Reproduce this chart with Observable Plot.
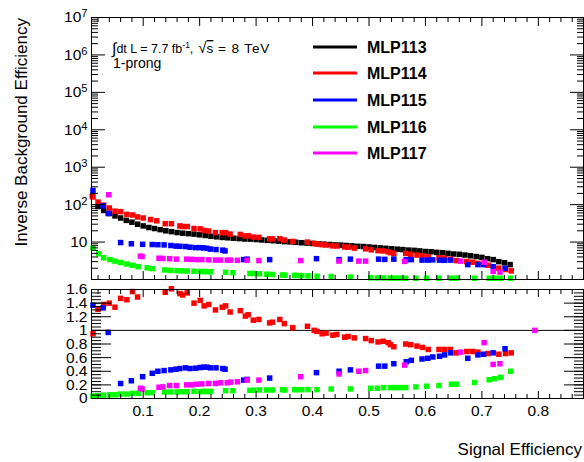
<!DOCTYPE html>
<html><head><meta charset="utf-8">
<script src="https://cdn.jsdelivr.net/npm/d3@7"></script>
<script src="https://cdn.jsdelivr.net/npm/@observablehq/plot@0.6"></script>
<style>
body{margin:0;background:#fff;}
#wrap{position:relative;width:584px;height:462px;overflow:hidden;background:#fff;font-family:"Liberation Sans",Arial,Helvetica,sans-serif;}
#top,#bot,#over{position:absolute;left:0;}
#top{top:0}
#bot{top:283px}
#over{top:0;pointer-events:none}
</style></head><body>
<div id="wrap"><div id="top"></div><div id="bot"></div>
<svg id="over" width="584" height="462" font-family="Liberation Sans, Arial, Helvetica, sans-serif"></svg></div>
<script>
// ---------------- data ----------------
const seriesNames = ["MLP113","MLP114","MLP115","MLP116","MLP117"];
const seriesColors = ["#000000","#ff0000","#0000ff","#00ff00","#ff00ff"];

const x113 = [0.01,0.02,0.03,0.04,0.05,0.06,0.07,0.08,0.09,0.10,0.11,0.12,0.13,0.14,0.15,0.16,0.17,0.18,0.19,0.20,0.21,0.22,0.23,0.24,0.25,0.26,0.27,0.28,0.29,0.30,0.31,0.32,0.33,0.34,0.35,0.36,0.37,0.38,0.39,0.40,0.41,0.42,0.43,0.44,0.45,0.46,0.47,0.48,0.49,0.50,0.51,0.52,0.53,0.54,0.55,0.56,0.57,0.58,0.59,0.60,0.61,0.62,0.63,0.64,0.65,0.66,0.67,0.68,0.69,0.70,0.71,0.72,0.73,0.74,0.75];
const y113 = [170,89,70,58,50,44,38,34,30,27,24.5,23,21.5,20,19,18,17.3,16.8,16.3,15.6,15,14.3,13.8,13.3,13,12.7,12.4,12.1,12,11.7,11.4,11.1,10.9,10.6,10.3,10.1,9.9,9.6,9.4,9.2,9.0,8.8,8.6,8.4,8.3,8.1,7.9,7.7,7.6,7.4,7.2,7.0,6.8,6.6,6.45,6.3,6.1,6.0,5.8,5.6,5.5,5.3,5.2,5.0,4.8,4.7,4.5,4.3,4.1,3.9,3.6,3.4,3.0,2.8,2.5];

const x114 = [0.011,0.02,0.03,0.04,0.05,0.06,0.071,0.081,0.09,0.10,0.113,0.124,0.139,0.15,0.165,0.17,0.178,0.19,0.201,0.208,0.216,0.228,0.24,0.246,0.254,0.272,0.281,0.286,0.295,0.305,0.324,0.329,0.342,0.35,0.365,0.391,0.403,0.408,0.417,0.424,0.436,0.443,0.457,0.463,0.474,0.494,0.504,0.516,0.525,0.534,0.538,0.544,0.565,0.574,0.585,0.595,0.605,0.624,0.634,0.644,0.655,0.673,0.683,0.693,0.711,0.73,0.742,0.752];
const y114 = [160,117,97,81,67,65,55,53,47,44,40,37,31,31,27,26,26,23,22.5,20.4,19.7,17.9,17.8,17.9,16.3,16,14.6,14.8,13.6,13.4,12.2,12.2,12.3,11.3,10.4,10,9.2,8.9,8.5,8.35,7.9,7.85,7.4,7.3,6.9,6.6,6.2,5.9,5.8,5.5,5.2,4.9,5.0,4.7,4.5,4.3,4.0,3.8,3.7,3.5,3.2,3.0,2.9,2.7,2.4,2.0,1.85,1.7];
const r114 = [0.95,1.31,1.38,1.40,1.34,1.47,1.45,1.57,1.49,1.67,1.67,1.66,1.56,1.61,1.54,1.52,1.55,1.40,1.44,1.36,1.38,1.30,1.34,1.36,1.27,1.29,1.21,1.23,1.15,1.16,1.11,1.12,1.16,1.10,1.04,1.06,1.00,0.985,0.95,0.96,0.93,0.94,0.90,0.91,0.89,0.88,0.85,0.83,0.84,0.82,0.79,0.76,0.80,0.79,0.77,0.75,0.72,0.72,0.72,0.72,0.67,0.69,0.69,0.68,0.66,0.65,0.66,0.67];

const x115 = [0.011,0.029,0.038,0.06,0.079,0.099,0.116,0.126,0.137,0.149,0.158,0.165,0.175,0.183,0.193,0.201,0.207,0.213,0.219,0.229,0.241,0.245,0.278,0.284,0.324,0.407,0.447,0.467,0.517,0.528,0.544,0.566,0.575,0.594,0.604,0.613,0.625,0.634,0.645,0.675,0.693,0.703,0.72,0.741];
const y115 = [240,93,58,9.7,9.0,8.7,8.6,8.5,8.4,8.1,7.8,7.7,7.6,7.3,7.1,7.1,7.0,6.8,6.5,6.3,6.1,5.8,3.4,3.5,3.4,3.6,3.4,3.5,3.5,3.45,3.5,3.4,3.4,3.3,3.3,3.35,3.3,3.25,3.3,2.5,2.5,2.5,2.2,2.0];
const r115 = [1.37,1.33,0.97,0.22,0.26,0.32,0.37,0.40,0.41,0.42,0.43,0.44,0.45,0.44,0.445,0.455,0.46,0.46,0.45,0.45,0.44,0.43,0.27,0.28,0.30,0.38,0.40,0.42,0.475,0.475,0.51,0.54,0.56,0.58,0.59,0.61,0.62,0.64,0.67,0.59,0.64,0.65,0.67,0.73];

const x116 = [0.011,0.021,0.030,0.041,0.050,0.060,0.071,0.081,0.091,0.107,0.116,0.138,0.148,0.160,0.169,0.178,0.190,0.201,0.207,0.213,0.219,0.246,0.259,0.289,0.296,0.306,0.319,0.329,0.347,0.351,0.368,0.372,0.381,0.392,0.408,0.433,0.467,0.503,0.515,0.526,0.538,0.547,0.556,0.565,0.583,0.602,0.624,0.646,0.655,0.687,0.713,0.722,0.733,0.751];
const y116 = [7.0,4.9,3.8,3.4,3.1,2.85,2.6,2.4,2.2,2.05,1.95,1.8,1.75,1.72,1.7,1.68,1.66,1.64,1.63,1.62,1.61,1.56,1.52,1.45,1.44,1.42,1.38,1.36,1.32,1.31,1.29,1.28,1.27,1.25,1.22,1.2,1.16,1.11,1.10,1.10,1.09,1.09,1.09,1.08,1.08,1.08,1.08,1.08,1.08,1.08,1.08,1.08,1.08,1.08];
const r116 = [0.035,0.04,0.05,0.055,0.055,0.065,0.065,0.075,0.075,0.085,0.085,0.095,0.095,0.095,0.10,0.10,0.105,0.10,0.105,0.10,0.105,0.115,0.115,0.12,0.12,0.125,0.125,0.125,0.13,0.125,0.13,0.13,0.13,0.13,0.13,0.14,0.14,0.15,0.15,0.16,0.16,0.16,0.16,0.16,0.17,0.18,0.19,0.21,0.21,0.235,0.275,0.29,0.31,0.40];

const x117 = [0.039,0.095,0.098,0.128,0.135,0.147,0.159,0.177,0.186,0.195,0.204,0.216,0.228,0.237,0.249,0.255,0.267,0.284,0.305,0.379,0.447,0.482,0.494,0.563,0.662,0.704,0.72,0.732,0.794];
const y117 = [184,4.2,4.1,3.7,3.65,3.6,3.5,3.5,3.45,3.4,3.4,3.35,3.3,3.3,3.3,3.3,3.25,3.25,3.2,3.2,3.1,3.1,3.1,3.05,3.1,2.9,1.64,1.57,null];
const r117 = [3.2,0.15,0.14,0.165,0.17,0.19,0.19,0.20,0.20,0.21,0.215,0.22,0.22,0.23,0.23,0.24,0.245,0.27,0.27,0.32,0.36,0.40,0.41,0.49,0.68,0.82,0.50,0.51,1.0];

// axis tick values / labels
const xTickLabels = [0.1,0.2,0.3,0.4,0.5,0.6,0.7,0.8];
const yTopLabels = [10,1e2,1e3,1e4,1e5,1e6,1e7];
const yBotLabels = [0,0.2,0.4,0.6,0.8,1,1.2,1.4,1.6];
const yTitle = "Inverse Background Efficiency";
const xTitle = "Signal Efficiency";

// ---------------- build tables ----------------
function rows(name, xs, ys, rs) {
  return xs.map((x, i) => ({series: name, x, y: ys[i], r: rs ? rs[i] : null}));
}
const pts = [
  ...rows("MLP113", x113, y113, null),
  ...rows("MLP114", x114, y114, r114),
  ...rows("MLP115", x115, y115, r115),
  ...rows("MLP116", x116, y116, r116),
  ...rows("MLP117", x117, y117, r117)
];
const topPts = pts.filter(d => d.y != null);
const ratioPts = pts.filter(d => d.r != null && d.r <= 1.62);

const xDomain = [0.0084, 0.88];
const xMinor = d3.range(1, 44).map(i => i * 0.02).filter(v => Math.abs(v * 10 - Math.round(v * 10)) > 1e-6);
const yTopMajor = [1, ...yTopLabels];
const yTopMinor = [];
for (let k = 0; k < 7; k++) for (let m = 2; m <= 9; m++) yTopMinor.push(m * Math.pow(10, k));
const yBotMinor = d3.range(0, 33).map(i => i * 0.05);

const FONT = "Liberation Sans, Arial, Helvetica, sans-serif";
const colorScale = {domain: seriesNames, range: seriesColors};
const sq = 3.1;

function tickAxes(axisFn, vals, anchors, size) {
  return anchors.map(a => axisFn(vals, {anchor: a, tickSize: -size, fill: null, label: null, stroke: "black"}));
}

// ---------------- top panel ----------------
const topPlot = Plot.plot({
  width: 584, height: 285,
  marginLeft: 91, marginRight: 1, marginTop: 17, marginBottom: 6,
  x: {domain: xDomain, axis: null},
  y: {type: "log", domain: [1, 1e7], axis: null},
  color: colorScale,
  style: {fontFamily: FONT, fontSize: "15.5px", color: "black", background: "transparent", overflow: "visible"},
  marks: [
    Plot.dot(topPts, {x: "x", y: "y", fill: "series", symbol: "square", r: sq}),
    Plot.frame({stroke: "black"}),
    ...tickAxes(Plot.axisY, yTopMajor, ["left", "right"], 14),
    ...tickAxes(Plot.axisY, yTopMinor, ["left", "right"], 7),
    ...tickAxes(Plot.axisX, xTickLabels, ["top", "bottom"], 8),
    ...tickAxes(Plot.axisX, xMinor, ["top", "bottom"], 4),
    Plot.axisY(yTopLabels, {anchor: "left", tickSize: 0, tickPadding: 4, label: null, fontSize: 15.5,
      tickFormat: d => d === 10 ? "10" : "10^" + Math.round(Math.log10(d))})
  ]
});
document.getElementById("top").appendChild(topPlot);

// superscripts for the log labels
const svgNS = "http://www.w3.org/2000/svg";
topPlot.querySelectorAll('g[aria-label="y-axis tick label"] text').forEach(t => {
  const parts = t.textContent.split("^");
  if (parts.length === 2) {
    t.textContent = parts[0];
    const ts = document.createElementNS(svgNS, "tspan");
    ts.setAttribute("dy", "-0.45em");
    ts.setAttribute("font-size", "0.72em");
    ts.textContent = parts[1];
    t.appendChild(ts);
  }
});

// ---------------- ratio panel ----------------
const botPlot = Plot.plot({
  width: 584, height: 179,
  marginLeft: 91, marginRight: 1, marginTop: 6, marginBottom: 64,
  x: {domain: xDomain, axis: null},
  y: {domain: [0, 1.6], axis: null},
  color: colorScale,
  style: {fontFamily: FONT, fontSize: "15.5px", color: "black", background: "transparent", overflow: "visible"},
  marks: [
    Plot.ruleY([1], {stroke: "black", strokeWidth: 1}),
    Plot.dot(ratioPts, {x: "x", y: "r", fill: "series", symbol: "square", r: sq}),
    Plot.frame({stroke: "black"}),
    ...tickAxes(Plot.axisY, yBotLabels, ["left", "right"], 20),
    ...tickAxes(Plot.axisY, yBotMinor, ["left", "right"], 10),
    ...tickAxes(Plot.axisX, xTickLabels, ["top", "bottom"], 7),
    ...tickAxes(Plot.axisX, xMinor, ["top", "bottom"], 4),
    Plot.axisY(yBotLabels, {anchor: "left", tickSize: 0, tickPadding: 4, label: null, fontSize: 15.5,
      tickFormat: d => String(+d.toFixed(1))}),
    Plot.axisX(xTickLabels, {anchor: "bottom", tickSize: 0, tickPadding: 6, label: null, fontSize: 15.5,
      tickFormat: d => d.toFixed(1)})
  ]
});
document.getElementById("bot").appendChild(botPlot);

// ---------------- titles, annotation, legend ----------------
const over = d3.select("#over");
over.append("text")
  .attr("transform", "translate(27,18) rotate(-90)")
  .attr("text-anchor", "end").attr("font-size", 17).attr("fill", "black")
  .text(yTitle);
over.append("text")
  .attr("x", 582).attr("y", 455).attr("text-anchor", "end")
  .attr("font-size", 17).attr("fill", "black")
  .text(xTitle);

const a1 = over.append("text").attr("x", 112).attr("y", 53).attr("font-size", 12.5).attr("fill", "black");
a1.append("tspan").attr("font-size", 16).attr("dy", 1).text("\u222B");
a1.append("tspan").attr("dy", -1).text("dt L = 7.7 fb");
a1.append("tspan").attr("dy", -5).attr("font-size", 8.5).text("-1");
a1.append("tspan").attr("dy", 5).text(",");
a1.append("tspan").attr("dx", 5).attr("font-size", 15).text("\u221A");
a1.append("tspan").attr("font-size", 13.5).attr("text-decoration", "overline").text("s");
a1.append("tspan").attr("font-size", 13.5).attr("letter-spacing", 0.9).text(" = 8 TeV");
over.append("text").attr("x", 113).attr("y", 68).attr("font-size", 14).attr("fill", "black").text("1-prong");

const legendY = [47, 73, 100, 127, 153];
seriesNames.forEach((name, i) => {
  over.append("line").attr("x1", 313).attr("x2", 357).attr("y1", legendY[i]).attr("y2", legendY[i])
    .attr("stroke", seriesColors[i]).attr("stroke-width", 3);
  over.append("text").attr("x", 367).attr("y", legendY[i]).attr("dy", "0.35em")
    .attr("font-size", 16).attr("font-weight", "bold").attr("fill", "black").text(name);
});
</script></body></html>
